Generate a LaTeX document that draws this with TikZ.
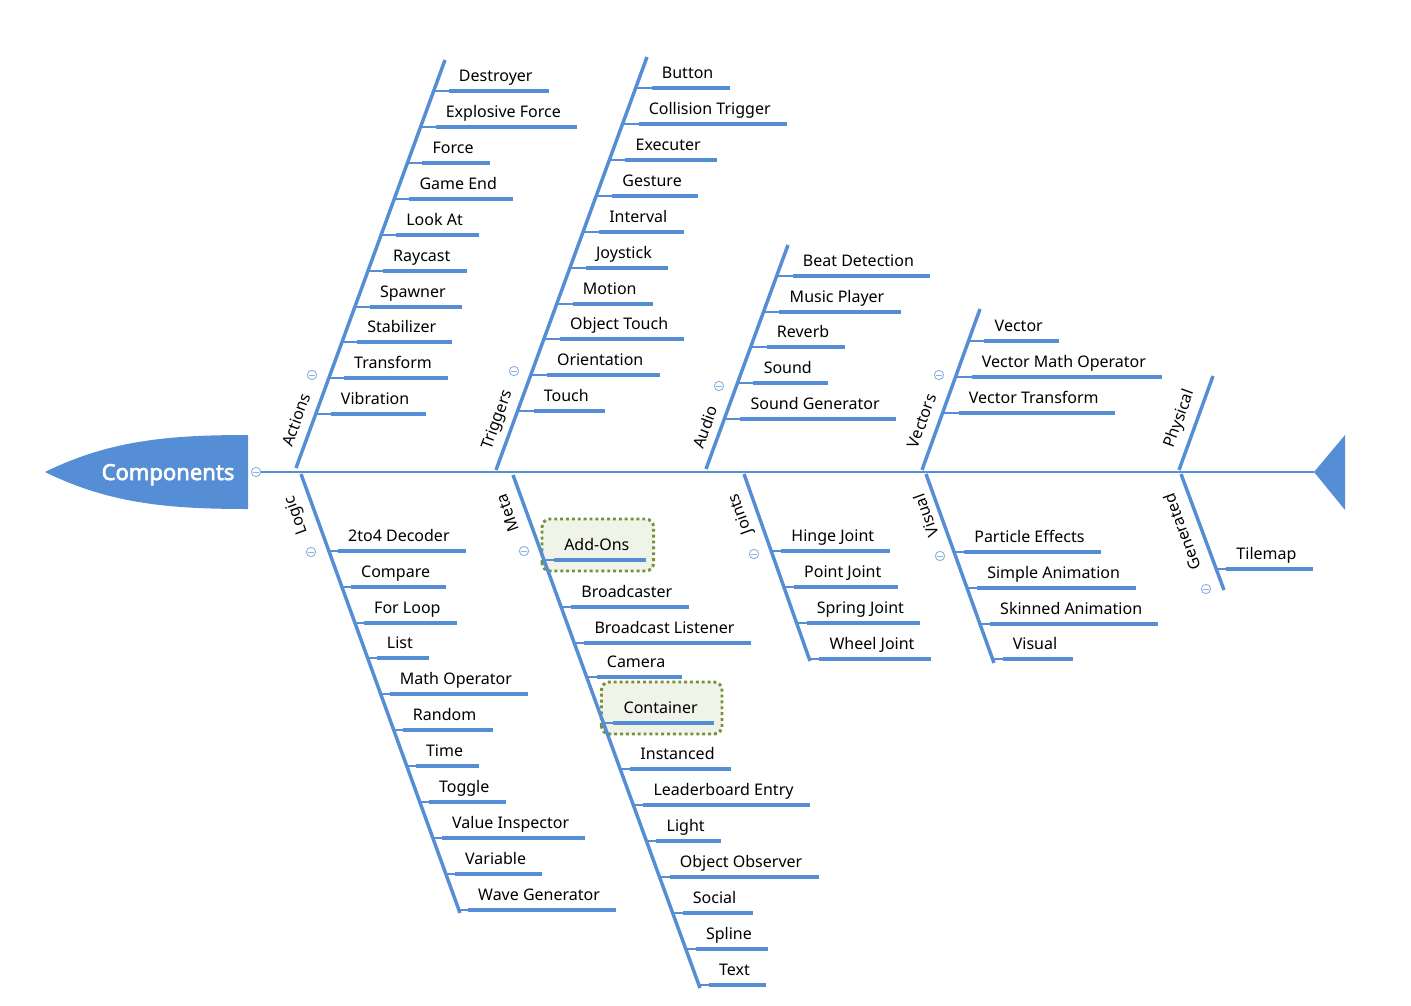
\documentclass[tikz,border=0pt]{standalone}
\usepackage{fontspec}
\setmainfont{Noto Sans}
\newfontfamily\headfont{Noto Sans}[AutoFakeBold=3]
\usetikzlibrary{backgrounds,calc}
\definecolor{fb}{RGB}{85,142,213}
\definecolor{cb}{RGB}{141,179,226}
\definecolor{bxfill}{RGB}{240,244,232}
\definecolor{bxline}{RGB}{118,146,60}
\tikzset{
 bone/.style={draw=fb, line width=2.6pt},
 spine/.style={draw=fb, line width=1.1pt},
 conn/.style={draw=fb, line width=0.8pt},
 uline/.style={draw=fb, line width=2.3pt},
 itm/.style={inner sep=0pt, font=\fontsize{12}{14}\selectfont, text=black},
 blabel/.style={inner sep=0pt, font=\fontsize{12}{14}\selectfont, text=black},
 collapse/.style={circle, draw=cb, line width=0.7pt, minimum size=7pt, inner sep=0pt, fill=white,
   path picture={\draw[cb, line width=0.7pt] ([xshift=-2pt]path picture bounding box.center) -- ([xshift=2pt]path picture bounding box.center);}},
 addbox/.style={draw=bxline, fill=bxfill, line width=2.2pt, dash pattern=on 2.2pt off 2.2pt, rounded corners=6pt},
}
\newcommand\setbone[5]{%
  \def\bax{#2}\def\bay{#3}\def\bbx{#4}\def\bby{#5}%
  \coordinate (#1top) at (#2,#3);
  \coordinate (#1bot) at (#4,#5);
}
\newcommand\bitem[4]{%
  \pgfmathsetmacro\jx{\bax+(\bbx-\bax)/(\bby-\bay)*(#2-\bay)}%
  \coordinate (#1j) at (\jx,#2);
  \coordinate (#1s) at (\jx+#3,#2);
  \node[itm, anchor=base west] (#1) at ([shift={(7.5pt,7.1pt)}]#1s) {#4};
  \path (#1.base east |- #1s) ++(12pt,0) coordinate (#1e);
  \draw[conn] (#1j) -- (#1s);
  \draw[uline] (#1s) -- (#1e);
}
\begin{document}
\begin{tikzpicture}[x=0.75pt, y=-0.75pt]
\useasboundingbox (0,0) rectangle (1411,1006);
% head
\fill[fb] (45,472) .. controls (110,440) and (170,435) .. (248,435) -- (248,509) .. controls (170,509) and (110,504) .. (45,472) -- cycle;
\node[font=\headfont\bfseries\fontsize{16.5}{18}\selectfont, text=white, anchor=base, inner sep=0pt] (head) at (168,480) {Components};
% tail
\coordinate (tail) at (1314,472);
\fill[fb] (tail) -- (1345,435) -- (1345,510) -- cycle;
% spine
\node[collapse] (hc) at (256,472) {};
\draw[spine] (hc) -- (tail);

% Actions
\setbone{A}{445}{60}{296}{468}
\draw[bone] (Abot) -- (Atop);
\node[blabel, rotate=70] (Alab) at (296,420) {Actions};
\node[collapse] (Acol) at (312,375) {};
\bitem{a1}{91}{15}{Destroyer}
\bitem{a2}{127}{15}{Explosive Force}
\bitem{a3}{163}{15}{Force}
\bitem{a4}{199}{15}{Game End}
\bitem{a5}{235}{15}{Look At}
\bitem{a6}{271}{15}{Raycast}
\bitem{a7}{307}{15}{Spawner}
\bitem{a8}{342}{15}{Stabilizer}
\bitem{a9}{378}{15}{Transform}
\bitem{a10}{414}{15}{Vibration}

% Triggers
\setbone{T}{647}{57}{496}{470}
\draw[bone] (Tbot) -- (Ttop);
\node[blabel, rotate=70] (Tlab) at (498,420) {Triggers};
\node[collapse] (Tcol) at (514,371) {};
\bitem{t1}{88}{16}{Button}
\bitem{t2}{124}{16}{Collision Trigger}
\bitem{t3}{160}{16}{Executer}
\bitem{t4}{196}{16}{Gesture}
\bitem{t5}{232}{16}{Interval}
\bitem{t6}{268}{16}{Joystick}
\bitem{t7}{304}{16}{Motion}
\bitem{t8}{339}{16}{Object Touch}
\bitem{t9}{375}{16}{Orientation}
\bitem{t10}{411}{16}{Touch}

% Audio
\setbone{U}{788}{245}{706}{469}
\draw[bone] (Ubot) -- (Utop);
\node[blabel, rotate=70] (Ulab) at (705,427) {Audio};
\node[collapse] (Ucol) at (719,386) {};
\bitem{u1}{276}{16}{Beat Detection}
\bitem{u2}{312}{16}{Music Player}
\bitem{u3}{347}{16}{Reverb}
\bitem{u4}{383}{16}{Sound}
\bitem{u5}{419}{16}{Sound Generator}

% Vectors
\setbone{V}{980}{309}{922}{470}
\draw[bone] (Vbot) -- (Vtop);
\node[blabel, rotate=70] (Vlab) at (922,421) {Vectors};
\node[collapse] (Vcol) at (939,375) {};
\bitem{v1}{341}{16}{Vector}
\bitem{v2}{377}{16}{Vector Math Operator}
\bitem{v3}{413}{16}{Vector Transform}

% Physical
\setbone{P}{1213}{376}{1179}{470}
\draw[bone] (Pbot) -- (Ptop);
\node[blabel, rotate=70] (Plab) at (1180,419) {Physical};

% Logic
\setbone{L}{301}{474}{460}{913}
\draw[bone] (Ltop) -- (Lbot);
\node[blabel, rotate=110] (Llab) at (297,515) {Logic};
\node[collapse] (Lcol) at (311,552) {};
\bitem{l1}{551}{9}{2to4 Decoder}
\bitem{l2}{587}{9}{Compare}
\bitem{l3}{623}{9}{For Loop}
\bitem{l4}{658}{9}{List}
\bitem{l5}{694}{9}{Math Operator}
\bitem{l6}{730}{9}{Random}
\bitem{l7}{766}{9}{Time}
\bitem{l8}{802}{9}{Toggle}
\bitem{l9}{838}{9}{Value Inspector}
\bitem{l10}{874}{9}{Variable}
\bitem{l11}{910}{9}{Wave Generator}

% Meta
\setbone{M}{513}{475}{700}{988}
\draw[bone] (Mtop) -- (Mbot);
\node[blabel, rotate=110] (Mlab) at (508,513) {Meta};
\node[collapse] (Mcol) at (524,551) {};
\bitem{m1}{560}{10}{Add-Ons}
\bitem{m2}{607}{10}{Broadcaster}
\bitem{m3}{643}{10}{Broadcast Listener}
\bitem{m4}{677}{10}{Camera}
\bitem{m5}{723}{10}{Container}
\bitem{m6}{769}{10}{Instanced}
\bitem{m7}{805}{10}{Leaderboard Entry}
\bitem{m8}{841}{10}{Light}
\bitem{m9}{877}{10}{Object Observer}
\bitem{m10}{913}{10}{Social}
\bitem{m11}{949}{10}{Spline}
\bitem{m12}{985}{10}{Text}
\begin{scope}[on background layer]
\draw[addbox] ([shift={(-9pt,-8.25pt)}]m1s) rectangle ([shift={(6pt,30.75pt)}]m1e);
\draw[addbox] ([shift={(-9pt,-8.25pt)}]m5s) rectangle ([shift={(6pt,30.75pt)}]m5e);
\end{scope}

% Joints
\setbone{J}{744}{474}{810}{661}
\draw[bone] (Jtop) -- (Jbot);
\node[blabel, rotate=110] (Jlab) at (741,514) {Joints};
\node[collapse] (Jcol) at (754,554) {};
\bitem{j1}{551}{10}{Hinge Joint}
\bitem{j2}{587}{10}{Point Joint}
\bitem{j3}{623}{10}{Spring Joint}
\bitem{j4}{659}{10}{Wheel Joint}

% Visual
\setbone{S}{926}{474}{994}{663}
\draw[bone] (Stop) -- (Sbot);
\node[blabel, rotate=110] (Slab) at (926,516) {Visual};
\node[collapse] (Scol) at (940,556) {};
\bitem{s1}{552}{10}{Particle Effects}
\bitem{s2}{588}{10}{Simple Animation}
\bitem{s3}{624}{10}{Skinned Animation}
\bitem{s4}{659}{10}{Visual}

% Generated
\setbone{G}{1181}{474}{1224}{590}
\draw[bone] (Gtop) -- (Gbot);
\node[blabel, rotate=110] (Glab) at (1182,532) {Generated};
\node[collapse] (Gcol) at (1206,589) {};
\bitem{g1}{569}{10}{Tilemap}
\end{tikzpicture}
\end{document}
